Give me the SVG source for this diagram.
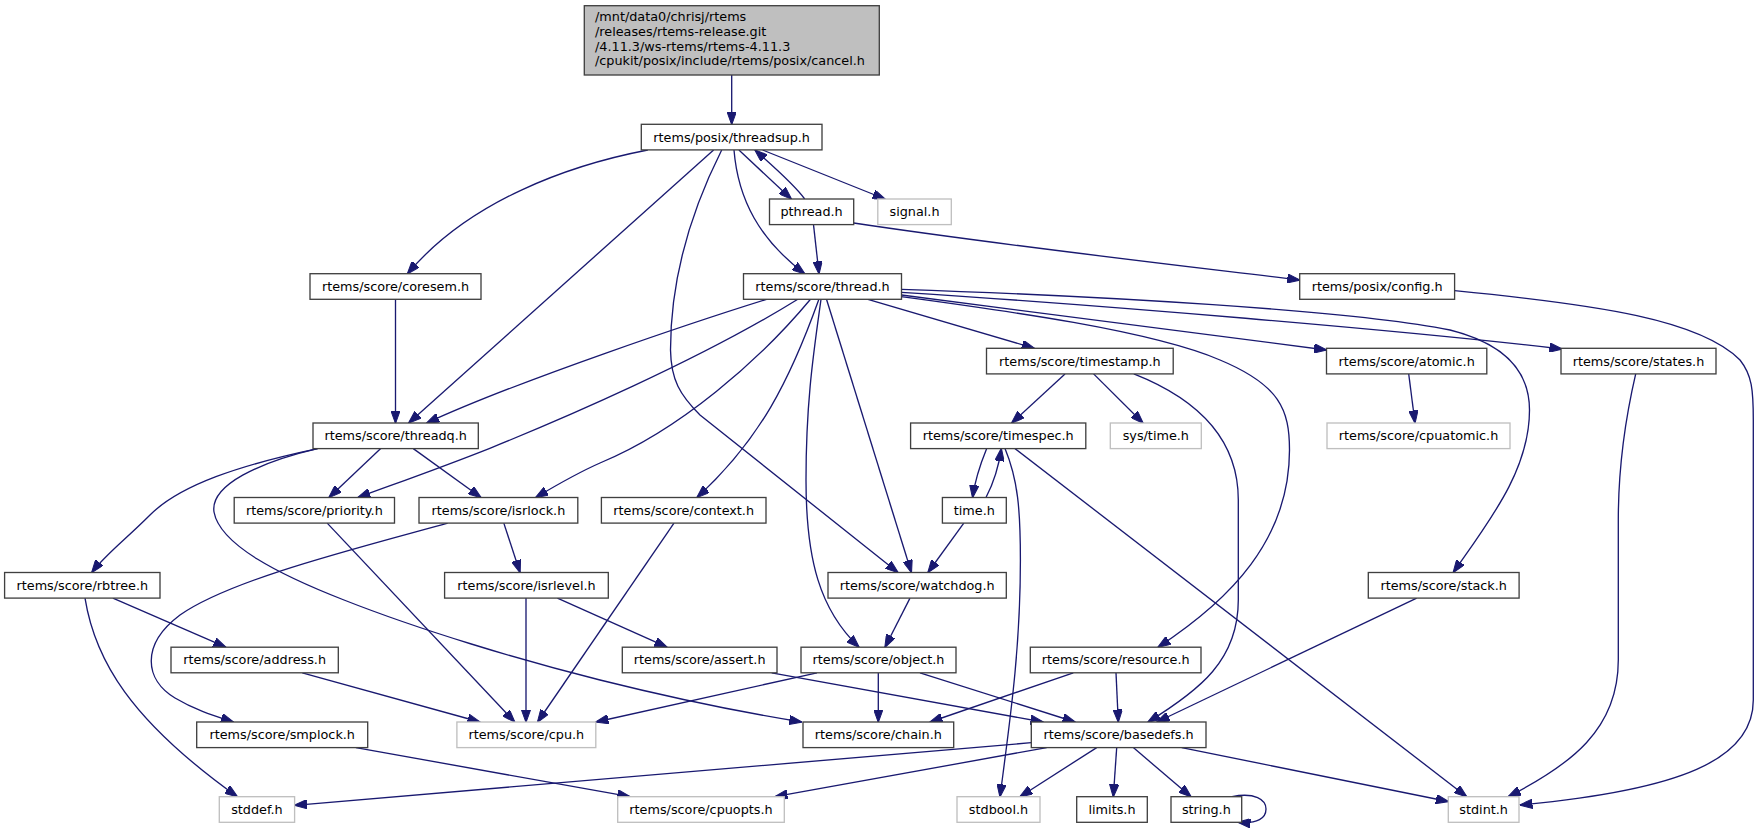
<svg xmlns="http://www.w3.org/2000/svg" width="1760" height="829" viewBox="0 0 1760 829">
<style>
.n rect{fill:#ffffff;stroke:#404040;stroke-width:1.33}
.g rect{fill:#ffffff;stroke:#bfbfbf;stroke-width:1.33}
.top rect{fill:#bfbfbf;stroke:#404040;stroke-width:1.33}
text{font-family:"DejaVu Sans","Liberation Sans",sans-serif;font-size:12.8px;fill:#000000}
.c{text-anchor:middle}
#edges path{fill:none;stroke:#191970;stroke-width:1.33;marker-end:url(#ah)}
</style>
<defs>
<marker id="ah" markerUnits="userSpaceOnUse" viewBox="0 0 13 9.4" refX="12.5" refY="4.7" markerWidth="13" markerHeight="9.4" orient="auto">
<path d="M0,0 L13,4.7 L0,9.4 z" fill="#191970" stroke="#191970" stroke-width="1"/>
</marker>
</defs>
<rect width="1760" height="829" fill="#ffffff"/>
<g id="edges">
<path d="M731.7,75 L731.7,124.3"/>
<path d="M647.8,150 C570,165 470,200 407.5,273.7"/>
<path d="M713.6,150 L408.7,423"/>
<path d="M721.7,150 C684,225 670.5,290 670.5,350 C671,380 680,395 700,415 L898,572.5"/>
<path d="M734,150 C738,200 760,240 804.7,273.7"/>
<path d="M738.9,150 L791.3,199"/>
<path d="M804.7,199 C795,185 775,168 755,150"/>
<path d="M762.6,150 L885,199"/>
<path d="M813.5,224.6 L819,273.7"/>
<path d="M853.7,223 C1000,245 1150,262 1299.7,280"/>
<path d="M395.5,299.3 L395.5,423"/>
<path d="M766.5,299.3 C700,320 520,380 426.7,423"/>
<path d="M797.8,299.3 C700,360 560,420 489.8,448.3 C440,468 400,482 357.8,497.5"/>
<path d="M810.5,299.3 C760,360 680,430 600,463 C575,474 555,486 535.7,497.5"/>
<path d="M818.9,299.3 C790,380 760,440 697,497.5"/>
<path d="M821,299.3 C814,350 806,400 806,480 C806,560 820,610 859,647.2"/>
<path d="M826.5,299.3 L911.4,572.5"/>
<path d="M867.9,299.3 L1034.3,348.3"/>
<path d="M901.5,289.3 C1100,296 1350,310 1450,330 C1510,345 1529.5,375 1529.5,410 C1529.5,470 1490,520 1453.3,572.5"/>
<path d="M901.5,292.3 C1100,305 1400,330 1562,349"/>
<path d="M901.5,295 L1326.5,350"/>
<path d="M901.5,296.7 C1000,310 1150,330 1220,360 C1280,385 1289.5,410 1289.5,450 C1289.5,540 1230,600 1158,647.2"/>
<path d="M1454.6,290.7 C1600,305 1700,320 1740,360 C1752,375 1753.3,390 1753.3,420 L1753.3,700 C1753.3,760 1680,790 1520,805"/>
<path d="M1635.7,373.9 C1625,420 1618.3,470 1618.3,520 L1618.3,660 C1618.3,730 1570,765 1508.3,796.7"/>
<path d="M1408.7,373.9 L1415,423"/>
<path d="M1065,373.9 L1011.7,423"/>
<path d="M1093.6,373.9 L1143,423"/>
<path d="M1133.8,373.9 C1200,400 1238.3,440 1238.3,500 L1238.3,600 C1238.3,660 1200,690 1148,722"/>
<path d="M317.6,448.6 C240,465 180,485 150,515 C125,540 105,555 91.8,572.5"/>
<path d="M317.6,448.6 C260,462 210,485 214,512 C220,545 280,575 344,600 C420,630 520,660 600,680 C680,700 740,712 801.7,722"/>
<path d="M380.7,448.6 L329,497.5"/>
<path d="M413.3,448.6 L481,497.5"/>
<path d="M327.2,523.1 L514.7,722"/>
<path d="M503.8,523.1 L520,572.5"/>
<path d="M447.7,523.1 C350,550 230,580 180,615 C140,645 145,680 175,698 C195,710 215,716 233.4,722"/>
<path d="M674,523.1 L537.6,722"/>
<path d="M526,598.1 L526,722"/>
<path d="M557.4,598.1 L667,647.2"/>
<path d="M986.7,448.6 C980,465 975,480 972.6,497.5"/>
<path d="M986,497.5 C994,482 999,465 1001.3,448.6"/>
<path d="M963.8,523.1 L928,572.5"/>
<path d="M910,598.1 L885,647.2"/>
<path d="M112.9,598.1 L225.8,647.2"/>
<path d="M85,598.1 C95,660 130,720 237.3,796.7"/>
<path d="M302.3,672.8 L480,722"/>
<path d="M355.9,747.6 L630,796.7"/>
<path d="M817,672.8 L596,722"/>
<path d="M878.3,672.8 L878.3,722"/>
<path d="M920,672.8 L1075,722"/>
<path d="M771.7,672.8 L1043,722"/>
<path d="M1073.3,672.8 L930,722"/>
<path d="M1116,672.8 L1118.3,722"/>
<path d="M1416.7,598.1 L1157,722"/>
<path d="M1005,448.6 C1018,480 1020.4,510 1020.4,560 C1020.4,650 1010,720 1000,796.7"/>
<path d="M1015,448.6 L1466.7,796.7"/>
<path d="M1031.3,742.7 L294.6,805.3"/>
<path d="M1046.7,747.6 L775,796.7"/>
<path d="M1096.7,747.6 L1020,796.7"/>
<path d="M1116.7,747.6 L1113.3,796.7"/>
<path d="M1133.3,747.6 L1191,796.7"/>
<path d="M1181.7,747.6 L1448.3,801.5"/>
<path d="M1232,796.7 C1255,792 1266,800 1266,809 C1266,818 1258,824 1238,822.3"/>
</g>
<g id="node-cancel" class="top"><rect x="584.3" y="5.7" width="295" height="69.3"/>
<text x="595" y="21">/mnt/data0/chrisj/rtems</text>
<text x="595" y="35.8">/releases/rtems-release.git</text>
<text x="595" y="50.6">/4.11.3/ws-rtems/rtems-4.11.3</text>
<text x="595" y="65.4">/cpukit/posix/include/rtems/posix/cancel.h</text></g>
<g id="node-threadsup" class="n"><rect x="641.3" y="124.3" width="180.7" height="25.6"/><text class="c" x="731.65" y="141.5">rtems/posix/threadsup.h</text></g>
<g id="node-pthread" class="n"><rect x="769.5" y="199" width="84.2" height="25.6"/><text class="c" x="811.6" y="216.2">pthread.h</text></g>
<g id="node-signal" class="g"><rect x="877.8" y="199" width="73.5" height="25.6"/><text class="c" x="914.55" y="216.2">signal.h</text></g>
<g id="node-coresem" class="n"><rect x="310" y="273.7" width="171" height="25.6"/><text class="c" x="395.5" y="290.9">rtems/score/coresem.h</text></g>
<g id="node-thread" class="n"><rect x="743.5" y="273.7" width="158" height="25.6"/><text class="c" x="822.5" y="290.9">rtems/score/thread.h</text></g>
<g id="node-config" class="n"><rect x="1299.7" y="273.7" width="154.9" height="25.6"/><text class="c" x="1377.15" y="290.9">rtems/posix/config.h</text></g>
<g id="node-timestamp" class="n"><rect x="986.5" y="348.3" width="186.7" height="25.6"/><text class="c" x="1079.85" y="365.5">rtems/score/timestamp.h</text></g>
<g id="node-atomic" class="n"><rect x="1326.5" y="348.3" width="160.3" height="25.6"/><text class="c" x="1406.65" y="365.5">rtems/score/atomic.h</text></g>
<g id="node-states" class="n"><rect x="1561" y="348.3" width="155" height="25.6"/><text class="c" x="1638.5" y="365.5">rtems/score/states.h</text></g>
<g id="node-threadq" class="n"><rect x="313" y="423" width="165.3" height="25.6"/><text class="c" x="395.65" y="440.2">rtems/score/threadq.h</text></g>
<g id="node-timespec" class="n"><rect x="910.6" y="423" width="175.2" height="25.6"/><text class="c" x="998.2" y="440.2">rtems/score/timespec.h</text></g>
<g id="node-systime" class="g"><rect x="1110.3" y="423" width="91" height="25.6"/><text class="c" x="1155.8" y="440.2">sys/time.h</text></g>
<g id="node-cpuatomic" class="g"><rect x="1327" y="423" width="183" height="25.6"/><text class="c" x="1418.5" y="440.2">rtems/score/cpuatomic.h</text></g>
<g id="node-priority" class="n"><rect x="234.2" y="497.5" width="160.3" height="25.6"/><text class="c" x="314.35" y="514.7">rtems/score/priority.h</text></g>
<g id="node-isrlock" class="n"><rect x="419" y="497.5" width="158.8" height="25.6"/><text class="c" x="498.4" y="514.7">rtems/score/isrlock.h</text></g>
<g id="node-context" class="n"><rect x="601.4" y="497.5" width="164.6" height="25.6"/><text class="c" x="683.7" y="514.7">rtems/score/context.h</text></g>
<g id="node-time" class="n"><rect x="942.4" y="497.5" width="63.9" height="25.6"/><text class="c" x="974.35" y="514.7">time.h</text></g>
<g id="node-rbtree" class="n"><rect x="4.6" y="572.5" width="155.4" height="25.6"/><text class="c" x="82.3" y="589.7">rtems/score/rbtree.h</text></g>
<g id="node-isrlevel" class="n"><rect x="444.6" y="572.5" width="163.7" height="25.6"/><text class="c" x="526.45" y="589.7">rtems/score/isrlevel.h</text></g>
<g id="node-watchdog" class="n"><rect x="828" y="572.5" width="178.3" height="25.6"/><text class="c" x="917.15" y="589.7">rtems/score/watchdog.h</text></g>
<g id="node-stack" class="n"><rect x="1368.3" y="572.5" width="150.8" height="25.6"/><text class="c" x="1443.7" y="589.7">rtems/score/stack.h</text></g>
<g id="node-address" class="n"><rect x="171" y="647.2" width="167.3" height="25.6"/><text class="c" x="254.65" y="664.4">rtems/score/address.h</text></g>
<g id="node-assert" class="n"><rect x="622.3" y="647.2" width="154.7" height="25.6"/><text class="c" x="699.65" y="664.4">rtems/score/assert.h</text></g>
<g id="node-object" class="n"><rect x="801" y="647.2" width="155" height="25.6"/><text class="c" x="878.5" y="664.4">rtems/score/object.h</text></g>
<g id="node-resource" class="n"><rect x="1030.3" y="647.2" width="170.7" height="25.6"/><text class="c" x="1115.65" y="664.4">rtems/score/resource.h</text></g>
<g id="node-smplock" class="n"><rect x="196.7" y="722" width="171" height="25.6"/><text class="c" x="282.2" y="739.2">rtems/score/smplock.h</text></g>
<g id="node-cpu" class="g"><rect x="456.9" y="722" width="138.9" height="25.6"/><text class="c" x="526.35" y="739.2">rtems/score/cpu.h</text></g>
<g id="node-chain" class="n"><rect x="803" y="722" width="150.7" height="25.6"/><text class="c" x="878.35" y="739.2">rtems/score/chain.h</text></g>
<g id="node-basedefs" class="n"><rect x="1031.3" y="722" width="174.7" height="25.6"/><text class="c" x="1118.65" y="739.2">rtems/score/basedefs.h</text></g>
<g id="node-stddef" class="g"><rect x="219.3" y="796.7" width="75.3" height="25.6"/><text class="c" x="256.95" y="813.9">stddef.h</text></g>
<g id="node-cpuopts" class="g"><rect x="617.7" y="796.7" width="166.6" height="25.6"/><text class="c" x="701" y="813.9">rtems/score/cpuopts.h</text></g>
<g id="node-stdbool" class="g"><rect x="957" y="796.7" width="83" height="25.6"/><text class="c" x="998.5" y="813.9">stdbool.h</text></g>
<g id="node-limits" class="n"><rect x="1076.7" y="796.7" width="70.6" height="25.6"/><text class="c" x="1112" y="813.9">limits.h</text></g>
<g id="node-string" class="n"><rect x="1171" y="796.7" width="70.7" height="25.6"/><text class="c" x="1206.35" y="813.9">string.h</text></g>
<g id="node-stdint" class="g"><rect x="1448.3" y="796.7" width="70.7" height="25.6"/><text class="c" x="1483.65" y="813.9">stdint.h</text></g>
</svg>
